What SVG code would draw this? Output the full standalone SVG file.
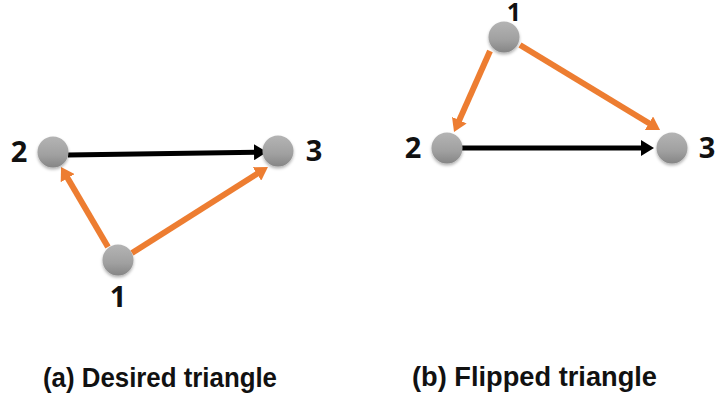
<svg xmlns="http://www.w3.org/2000/svg" width="715" height="401" viewBox="0 0 715 401">
  <defs>
    <linearGradient id="ball" x1="0" y1="0" x2="0" y2="1">
      <stop offset="0" stop-color="#b4b4b4"/>
      <stop offset="0.6" stop-color="#a0a0a0"/>
      <stop offset="1" stop-color="#858585"/>
    </linearGradient>
    <filter id="shadow" x="-30%" y="-30%" width="160%" height="170%">
      <feDropShadow dx="0" dy="2" stdDeviation="1.5" flood-color="#000" flood-opacity="0.3"/>
    </filter>
    <!-- arrowheads: 13 long, 16 wide; tip sits 10px past the line end -->
    <marker id="headBlack" viewBox="0 0 13 16" refX="3" refY="8" markerWidth="13" markerHeight="16" markerUnits="userSpaceOnUse" orient="auto">
      <path d="M0,0 L13,8 L0,16 z" fill="#000"/>
    </marker>
    <marker id="headOrange" viewBox="0 0 13 16" refX="3" refY="8" markerWidth="13" markerHeight="16" markerUnits="userSpaceOnUse" orient="auto">
      <path d="M0,0 L13,8 L0,16 z" fill="#ed7d31"/>
    </marker>
  </defs>
  <style>
    .node { fill: url(#ball); filter: url(#shadow); }
    .num { font-family: "Open Sans", "Liberation Sans", sans-serif; font-weight: bold; font-size: 29px; fill: #111; text-anchor: middle; }
    .cap { font-family: "Liberation Sans", Arial, sans-serif; font-weight: bold; font-size: 27px; fill: #111; }
    .black { stroke: #000; stroke-width: 5; fill: none; marker-end: url(#headBlack); }
    .orange { stroke: #ed7d31; stroke-width: 6; fill: none; marker-end: url(#headOrange); }
  </style>

  <!-- connectors -->
  <g id="connectors">
    <!-- (a) desired triangle -->
    <line class="black" x1="68" y1="155" x2="257" y2="152.2"/>
    <line class="orange" x1="108" y1="247" x2="66.1" y2="175.6"/>
    <line class="orange" x1="132" y1="253" x2="259.5" y2="172.3"/>
    <!-- (b) flipped triangle -->
    <line class="orange" x1="490" y1="51" x2="458.1" y2="122.9"/>
    <line class="orange" x1="520" y1="45" x2="651.5" y2="124.8"/>
    <line class="black" x1="462" y1="148" x2="644" y2="148"/>
  </g>

  <!-- (a) nodes -->
  <g id="a-node-1"><circle class="node" cx="118" cy="260" r="15.5"/><text class="num" x="118" y="307">1</text></g>
  <g id="a-node-2"><circle class="node" cx="53" cy="152" r="15.5"/><text class="num" x="19" y="162">2</text></g>
  <g id="a-node-3"><circle class="node" cx="278" cy="151" r="15.5"/><text class="num" x="314" y="161">3</text></g>

  <!-- (b) nodes -->
  <g id="b-node-1"><circle class="node" cx="504" cy="37" r="15.5"/><text class="num" x="514" y="21" style="font-size:25px">1</text></g>
  <g id="b-node-2"><circle class="node" cx="447" cy="148" r="15.5"/><text class="num" x="413" y="158">2</text></g>
  <g id="b-node-3"><circle class="node" cx="672" cy="148" r="15.5"/><text class="num" x="707" y="158">3</text></g>

  <!-- captions -->
  <text class="cap" x="43" y="387" textLength="234" lengthAdjust="spacingAndGlyphs">(a) Desired triangle</text>
  <text class="cap" x="412" y="386" textLength="245" lengthAdjust="spacingAndGlyphs">(b) Flipped triangle</text>
</svg>
